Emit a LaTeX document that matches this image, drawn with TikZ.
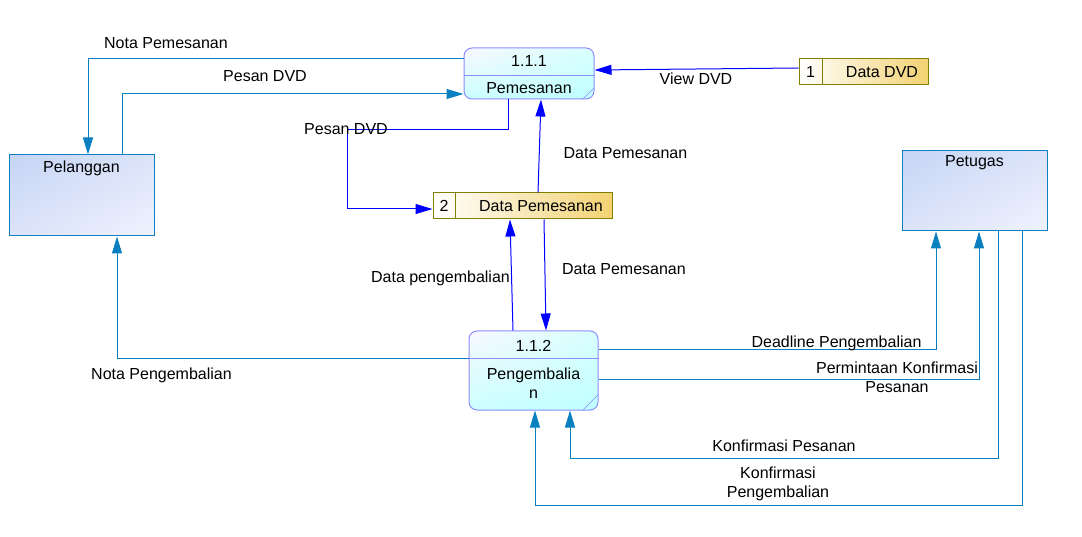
\documentclass[tikz,border=0pt]{standalone}
\usepackage{fontspec}
\setmainfont{Liberation Sans}
\usetikzlibrary{arrows.meta,shadings}
\definecolor{flowcol}{HTML}{0A80C0}
\definecolor{storeflow}{HTML}{0000FF}
\definecolor{procline}{HTML}{8C8CFF}
\definecolor{storeline}{HTML}{808000}
\definecolor{entline}{HTML}{1080C0}
\definecolor{entdark}{HTML}{C6D5F5}
\definecolor{entlight}{HTML}{F0F2FE}
\definecolor{storegold}{HTML}{F3D272}
\begin{document}
\begin{tikzpicture}[x=1pt, y=-1pt, font=\fontsize{16}{19}\selectfont,
    proc/.style={draw=procline, line width=1pt, rounded corners=8pt, shade,
        upper left=white!80!procline!30, upper right=cyan!15, lower left=cyan!20, lower right=cyan!25,
        minimum width=130pt, inner sep=0pt},
    store/.style={draw=storeline, line width=1pt, shade, left color=white, right color=storegold,
        minimum height=26pt, inner sep=0pt},
    entity/.style={draw=entline, line width=1pt, shade,
        upper left=entdark, upper right=entdark!50!entlight, lower left=entdark!50!entlight, lower right=entlight,
        minimum width=145pt, minimum height=80pt, inner sep=0pt},
    flow/.style={draw=flowcol, line width=1pt, -{Triangle[length=17pt, width=10pt]}},
    sflow/.style={draw=storeflow, line width=1pt, -{Triangle[length=17pt, width=10pt]}}]
    \useasboundingbox (0,0) rectangle (1082,537);
    % processes
    \node[proc, minimum height=51pt] (p1) at (529,73.5) {};
    \draw[procline, line width=1pt] ([yshift=-2.5pt]p1.west) -- ([yshift=-2.5pt]p1.east);
    \draw[procline] ([xshift=-12pt]p1.south east) -- ([yshift=12pt]p1.south east);
    \node (p1num) at ([yshift=12.5pt]p1.center) {1.1.1};
    \node (p1name) at ([yshift=-14.5pt]p1.center) {Pemesanan};
    \node[proc, minimum width=129pt, minimum height=79pt] (p2) at (533.5,370.5) {};
    \draw[procline, line width=1pt] ([yshift=11.5pt]p2.west) -- ([yshift=11.5pt]p2.east);
    \draw[procline] ([xshift=-16pt]p2.south east) -- ([yshift=16pt]p2.south east);
    \node (p2num) at ([yshift=24.5pt]p2.center) {1.1.2};
    \node[align=center] (p2name) at ([yshift=-12.5pt]p2.center) {Pengembalia\\n};
    % data stores
    \node[store, minimum width=129pt] (ds1) at (863.5,72) {};
    \draw[storeline, line width=1pt] (822,59) -- (822,85);
    \node (ds1num) at (810.5,72) {1};
    \node (ds1name) at (882,72) {Data DVD};
    \node[store, minimum width=179pt] (ds2) at (522.5,206) {};
    \draw[storeline, line width=1pt] (455,193) -- (455,219);
    \node (ds2num) at (444,206) {2};
    \node (ds2name) at (541,206) {Data Pemesanan};
    % external entities
    \node[entity, minimum height=81pt] (pel) at (81.5,195.5) {};
    \node (pelname) at (81.5,168) {Pelanggan};
    \node[entity] (pet) at (974.5,191) {};
    \node (petname) at (974.5,163) {Petugas};
    % flows
    \draw[flow] ([yshift=14.5pt]p1.west) -| ([xshift=6.5pt]pel.north);
    \draw[flow] ([xshift=40.5pt]pel.north) |- ([yshift=-20.5pt]p1.west);
    \draw[sflow] ([xshift=-21pt]p1.south) |- (347,130) |- ([yshift=-3pt]ds2.west);
    \draw[sflow] ([xshift=15.5pt]ds2.north) -- ([xshift=12pt]p1.south);
    \draw[sflow] ([yshift=4pt]ds1.west) -- ([yshift=3.5pt]p1.east);
    \draw[sflow] ([xshift=-20.5pt]p2.north) -- ([xshift=-12.5pt]ds2.south);
    \draw[sflow] ([xshift=21.5pt]ds2.south) -- ([xshift=12.5pt]p2.north);
    \draw[flow] ([yshift=11.5pt]p2.west) -| ([xshift=35.5pt]pel.south);
    \draw[flow] ([yshift=20.5pt]p2.east) -| ([xshift=-38.5pt]pet.south);
    \draw[flow] ([yshift=-8.5pt]p2.east) -| ([xshift=4.5pt]pet.south);
    \draw[flow] ([xshift=23.5pt]pet.south) -- ++(0,227) -| ([xshift=36.5pt]p2.south);
    \draw[flow] ([xshift=47.5pt]pet.south) -- ++(0,274) -| ([xshift=1.5pt]p2.south);
    % labels
    \node (lNotaPsn) at (166,43) {Nota Pemesanan};
    \node (lPesan1) at (265,76) {Pesan DVD};
    \node (lPesan2) at (346,129) {Pesan DVD};
    \node (lView) at (696,79) {View DVD};
    \node (lDataPsn1) at (625.5,153) {Data Pemesanan};
    \node (lDataPsn2) at (624,269) {Data Pemesanan};
    \node (lDataPgm) at (440.5,278) {Data pengembalian};
    \node (lNotaPgm) at (161.5,375) {Nota Pengembalian};
    \node (lDeadline) at (836.5,343) {Deadline Pengembalian};
    \node[align=center] (lMinta) at (897,377.5) {Permintaan Konfirmasi\\Pesanan};
    \node (lKonfPsn) at (784,446) {Konfirmasi Pesanan};
    \node[align=center] (lKonfPgm) at (778,484) {Konfirmasi\\Pengembalian};
\end{tikzpicture}
\end{document}
